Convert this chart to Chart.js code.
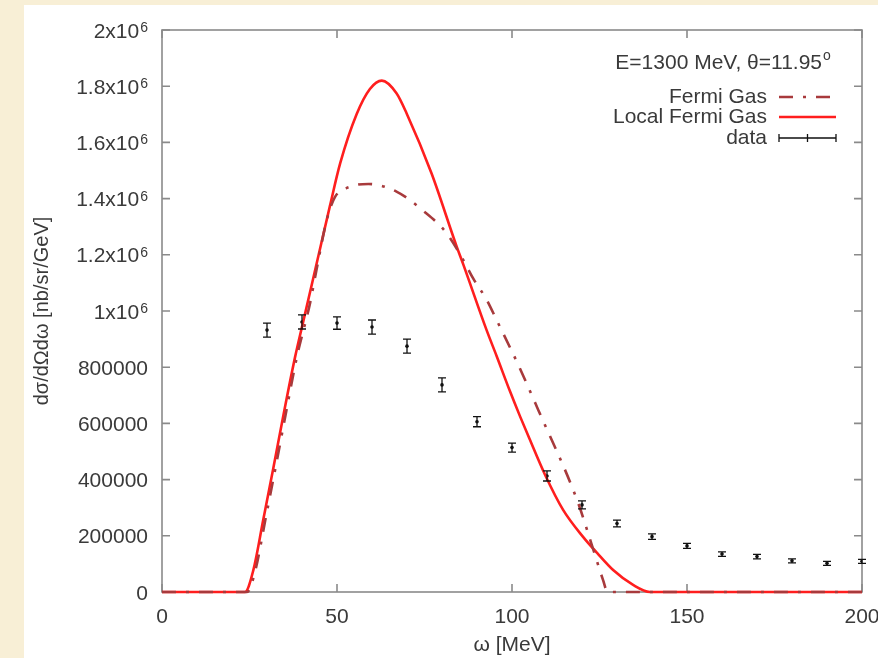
<!DOCTYPE html>
<html>
<head>
<meta charset="utf-8">
<script src="https://cdn.jsdelivr.net/npm/chart.js@4.4.1/dist/chart.umd.min.js"></script>
<style>
  html, body { margin: 0; padding: 0; background: #f8efd6; }
  #panel { position: absolute; left: 24px; top: 5px; right: 0; bottom: 0; background: #fff; }
  #plot { position: absolute; left: 0; top: 0; }
</style>
</head>
<body>
<div id="panel"></div>
<canvas id="plot" width="878" height="658"></canvas>
<script>
// Local Fermi Gas (solid red)
const lfgOmega = [0, 23.7, 26.1, 28.9, 31.8, 34.7, 38, 40.4, 44.2, 48, 50.9, 55.6, 59.4, 62.8, 67, 69.9, 77, 84.2, 86.1, 92.8, 95.6, 99.4, 102.3, 105, 109.4, 114.6, 120.3, 124.3, 128.9, 134.6, 139.4, 200];
const lfgValue = [0, 0, 78000, 255000, 440000, 630000, 835000, 965000, 1170000, 1375000, 1525000, 1700000, 1790000, 1820000, 1775000, 1703000, 1490000, 1229000, 1165000, 930000, 840000, 715000, 625000, 545000, 418000, 292000, 196000, 139000, 78000, 25000, 0, 0];

// Fermi Gas (dash-dot)
const fgOmega = [0, 24.3, 26.7, 29.5, 32.4, 35.3, 38.6, 42.3, 44.2, 47, 49.4, 53.7, 59, 67, 74.7, 81.3, 86.1, 88.9, 92.8, 95.6, 101.8, 107.5, 118.6, 123, 126, 127.3, 200];
const fgValue = [0, 0, 78000, 255000, 440000, 630000, 840000, 1028000, 1150000, 1320000, 1405000, 1442000, 1452000, 1425000, 1356000, 1277000, 1181000, 1116000, 1039000, 968000, 808000, 648000, 327000, 160000, 43000, 0, 0];

// data with errors
const dataOmega = [30, 40, 50, 60, 70, 80, 90, 100, 110, 120, 130, 140, 150, 160, 170, 180, 190, 200];
const dataValue = [932000, 961000, 957000, 943000, 875000, 737000, 606000, 514000, 413000, 310000, 244000, 197000, 164000, 135000, 126000, 111000, 102000, 109000];
const dataError = [25000, 25000, 22000, 25000, 25000, 25000, 18000, 16000, 18000, 14000, 12000, 10000, 9000, 8000, 8000, 7000, 7000, 7000];

const xTicks = [0, 50, 100, 150, 200];
const yTicks = [0, 200000, 400000, 600000, 800000, 1000000, 1200000, 1400000, 1600000, 1800000, 2000000];
const yTickLabels = ['0', '200000', '400000', '600000', '800000', '1x10^6', '1.2x10^6', '1.4x10^6', '1.6x10^6', '1.8x10^6', '2x10^6'];

const FONT = '"Liberation Sans", Arial, sans-serif';
const TEXT = '#3a3a3a';
const FRAME = '#8a8a8a';
const RED = '#ff1e1e';
const DARKRED = '#a83a3c';

const pts = (xs, ys) => xs.map((x, i) => ({x: x, y: ys[i]}));

const gnuplotBits = {
    id: 'gnuplotBits',
    beforeDatasetsDraw(chart) {
        const {ctx, chartArea: a, scales: {x, y}} = chart;
        ctx.save();
        ctx.strokeStyle = FRAME;
        ctx.lineWidth = 1.6;
        ctx.strokeRect(a.left, a.top, a.right - a.left, a.bottom - a.top);
        ctx.beginPath();
        xTicks.forEach(v => {
            const px = x.getPixelForValue(v);
            ctx.moveTo(px, a.bottom); ctx.lineTo(px, a.bottom - 8);
            ctx.moveTo(px, a.top); ctx.lineTo(px, a.top + 8);
        });
        yTicks.forEach(v => {
            const py = y.getPixelForValue(v);
            ctx.moveTo(a.left, py); ctx.lineTo(a.left + 8, py);
            ctx.moveTo(a.right, py); ctx.lineTo(a.right - 8, py);
        });
        ctx.stroke();

        // y tick labels with superscripts
        ctx.fillStyle = TEXT;
        ctx.textBaseline = 'alphabetic';
        yTickLabels.forEach((lab, i) => {
            const py = y.getPixelForValue(yTicks[i]);
            const parts = lab.split('^');
            ctx.font = '21px ' + FONT;
            const wb = ctx.measureText(parts[0]).width;
            let we = 0;
            if (parts[1]) {
                ctx.font = '14px ' + FONT;
                we = ctx.measureText(parts[1]).width + 1;
            }
            const right = a.left - 14;
            ctx.font = '21px ' + FONT;
            ctx.textAlign = 'left';
            ctx.fillText(parts[0], right - wb - we, py + 7.5);
            if (parts[1]) {
                ctx.font = '14px ' + FONT;
                ctx.fillText(parts[1], right - we + 1, py + 2);
            }
        });
        ctx.restore();
    },
    afterDatasetsDraw(chart) {
        const {ctx, scales: {x, y}} = chart;
        ctx.save();
        // error bars
        ctx.strokeStyle = '#111';
        ctx.lineWidth = 1.3;
        ctx.beginPath();
        dataOmega.forEach((w, i) => {
            const px = x.getPixelForValue(w);
            const lo = y.getPixelForValue(dataValue[i] - dataError[i]);
            const hi = y.getPixelForValue(dataValue[i] + dataError[i]);
            ctx.moveTo(px, lo); ctx.lineTo(px, hi);
            ctx.moveTo(px - 4, lo); ctx.lineTo(px + 4, lo);
            ctx.moveTo(px - 4, hi); ctx.lineTo(px + 4, hi);
        });
        ctx.stroke();

        // key
        const tx = 767, sx0 = 779, sx1 = 836;
        ctx.fillStyle = TEXT;
        ctx.font = '21px ' + FONT;
        ctx.textAlign = 'right';
        ctx.textBaseline = 'middle';
        ctx.fillText('E=1300 MeV, \u03b8=11.95', 822, 63);
        ctx.font = '14px ' + FONT;
        ctx.textAlign = 'left';
        ctx.fillText('o', 823, 56);
        ctx.font = '21px ' + FONT;
        ctx.textAlign = 'right';
        const rows = [['Fermi Gas', 97], ['Local Fermi Gas', 117], ['data', 138]];
        rows.forEach(r => ctx.fillText(r[0], tx, r[1]));

        ctx.lineWidth = 2.6;
        ctx.strokeStyle = DARKRED;
        ctx.setLineDash([14, 10, 3, 10]);
        ctx.beginPath(); ctx.moveTo(sx0, 97); ctx.lineTo(sx1, 97); ctx.stroke();
        ctx.setLineDash([]);
        ctx.strokeStyle = RED;
        ctx.beginPath(); ctx.moveTo(sx0, 117); ctx.lineTo(sx1, 117); ctx.stroke();
        ctx.strokeStyle = '#111';
        ctx.lineWidth = 1.3;
        ctx.beginPath();
        ctx.moveTo(sx0, 138); ctx.lineTo(sx1, 138);
        [sx0, (sx0 + sx1) / 2, sx1].forEach(px => { ctx.moveTo(px, 134); ctx.lineTo(px, 142); });
        ctx.stroke();
        ctx.restore();
    }
};

new Chart(document.getElementById('plot'), {
    type: 'scatter',
    data: {
        datasets: [{
            label: 'Fermi Gas',
            data: pts(fgOmega, fgValue),
            showLine: true,
            borderColor: DARKRED,
            borderWidth: 2.6,
            borderDash: [14, 10, 3, 10],
            pointRadius: 0,
            clip: 4,
            cubicInterpolationMode: 'monotone'
        }, {
            label: 'Local Fermi Gas',
            data: pts(lfgOmega, lfgValue),
            showLine: true,
            borderColor: RED,
            borderWidth: 2.6,
            pointRadius: 0,
            clip: 4,
            cubicInterpolationMode: 'monotone'
        }, {
            label: 'data',
            data: pts(dataOmega, dataValue),
            showLine: false,
            pointRadius: 1.8,
            pointBackgroundColor: '#111',
            pointBorderColor: '#111',
            pointBorderWidth: 0
        }]
    },
    options: {
        responsive: false,
        animation: false,
        devicePixelRatio: 1,
        layout: {padding: {top: 30, right: 16, left: 0, bottom: 0}},
        plugins: {legend: {display: false}, tooltip: {enabled: false}},
        scales: {
            x: {
                type: 'linear',
                min: 0,
                max: 200,
                afterBuildTicks: s => { s.ticks = xTicks.map(v => ({value: v})); },
                afterFit: s => { s.height = 66; s.paddingLeft = 0; s.paddingRight = 0; },
                grid: {display: false},
                border: {display: false},
                ticks: {color: TEXT, font: {family: FONT, size: 21}, padding: 5, maxRotation: 0},
                title: {display: true, text: '\u03c9 [MeV]', color: TEXT, font: {family: FONT, size: 21}, padding: {top: 0, bottom: 0}}
            },
            y: {
                type: 'linear',
                min: 0,
                max: 2000000,
                afterBuildTicks: s => { s.ticks = yTicks.map(v => ({value: v})); },
                afterFit: s => { s.width = 162; s.paddingTop = 0; s.paddingBottom = 0; },
                grid: {display: false},
                border: {display: false},
                ticks: {display: false},
                title: {display: true, text: 'd\u03c3/d\u03a9d\u03c9 [nb/sr/GeV]', color: TEXT, font: {family: FONT, size: 20}, padding: {top: 30, bottom: 0}}
            }
        }
    },
    plugins: [gnuplotBits]
});
</script>
</body>
</html>
